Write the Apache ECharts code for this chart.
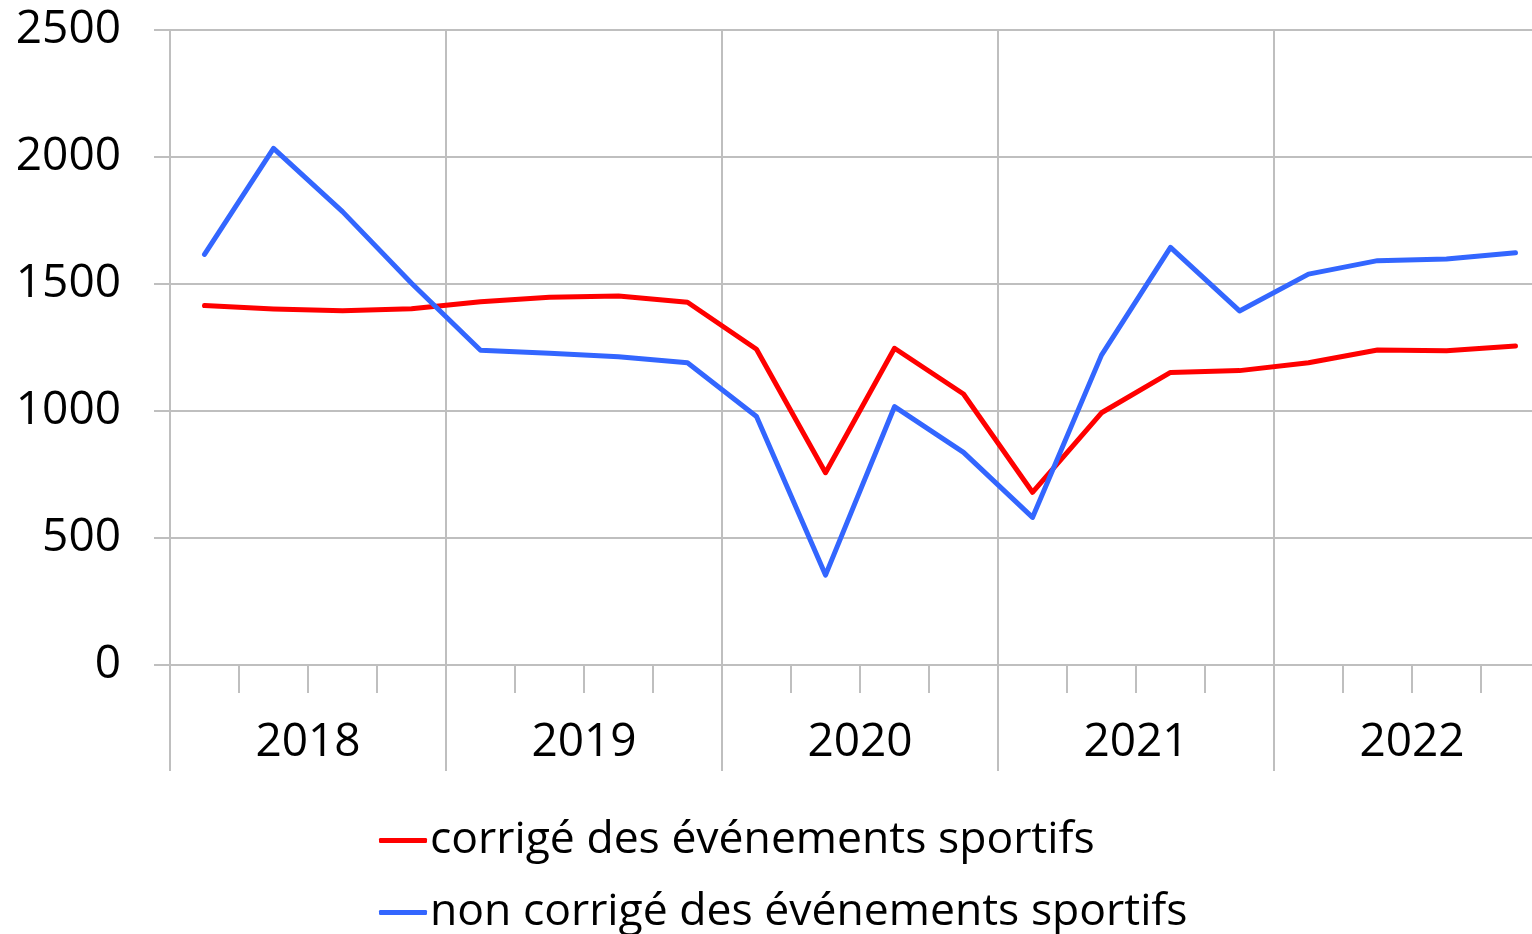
<!DOCTYPE html>
<html>
<head>
<meta charset="utf-8">
<script src="https://cdn.jsdelivr.net/npm/echarts@6/dist/echarts.min.js"></script>
<style>
html,body{margin:0;padding:0;background:#fff;overflow:hidden;}
#chart{width:1552px;height:934px;}
</style>
</head>
<body>
<div id="chart"></div>
<script>
const years = ['2018','2019','2020','2021','2022'];
const quarters = ['2018T1','2018T2','2018T3','2018T4','2019T1','2019T2','2019T3','2019T4','2020T1','2020T2','2020T3','2020T4','2021T1','2021T2','2021T3','2021T4','2022T1','2022T2','2022T3','2022T4'];
const corrige = [1415,1402,1395,1403,1430,1448,1453,1428,1243,757,1247,1067,680,993,1152,1159,1190,1240,1237,1256];
const nonCorrige = [1617,2034,1785,1503,1239,1227,1214,1190,978,354,1017,837,581,1220,1644,1394,1539,1592,1598,1623];
const yTicks = [0,500,1000,1500,2000,2500];
const seriesNames = ['corrigé des événements sportifs','non corrigé des événements sportifs'];

const FONT = '"Open Sans", sans-serif';
const GRAY = '#bfbfbf';
const legendBase = {
  orient:'horizontal', left:379, padding:0,
  icon:'roundRect', itemWidth:48, itemHeight:5,
  textStyle:{fontFamily:FONT, fontSize:44.5, color:'#000', lineHeight:44, padding:[0,0,0,-2]}
};
const chart = echarts.init(document.getElementById('chart'), null, {renderer:'canvas', width:1552, height:934});
chart.setOption({
  animation:false,
  backgroundColor:'#fff',
  grid:{left:170, top:30, width:1380, height:635, containLabel:false},
  legend:[
    Object.assign({}, legendBase, {top:818, data:[seriesNames[0]]}),
    Object.assign({}, legendBase, {top:890, data:[seriesNames[1]]})
  ],
  xAxis:[
    {type:'category', data:quarters, position:'bottom', boundaryGap:true,
     axisLine:{show:true, lineStyle:{color:GRAY, width:2}},
     axisTick:{show:true, interval:0, length:28, lineStyle:{color:GRAY, width:2}},
     axisLabel:{show:false}, splitLine:{show:false}},
    {type:'category', data:years, position:'bottom', boundaryGap:true,
     axisLine:{show:false},
     axisTick:{show:true, interval:0, length:106, lineStyle:{color:GRAY, width:2}},
     axisLabel:{show:true, interval:0, margin:55, fontFamily:FONT, fontSize:46, color:'#000'},
     splitLine:{show:true, interval:0, lineStyle:{color:GRAY, width:2}}}
  ],
  yAxis:{type:'value', min:yTicks[0], max:yTicks[yTicks.length-1], interval:500,
    axisLine:{show:false},
    axisTick:{show:true, length:16, lineStyle:{color:GRAY, width:2}},
    axisLabel:{margin:49, fontFamily:FONT, fontSize:46, color:'#000', formatter:function(v){return String(v);}},
    splitLine:{show:true, lineStyle:{color:GRAY, width:2}}},
  series:[
    {name:seriesNames[0], type:'line', xAxisIndex:0, data:corrige, symbol:'none',
     lineStyle:{color:'#ff0000', width:5, cap:'round', join:'round'}, itemStyle:{color:'#ff0000'}},
    {name:seriesNames[1], type:'line', xAxisIndex:0, data:nonCorrige, symbol:'none',
     lineStyle:{color:'#3366ff', width:5, cap:'round', join:'round'}, itemStyle:{color:'#3366ff'}}
  ]
});
</script>
</body>
</html>
